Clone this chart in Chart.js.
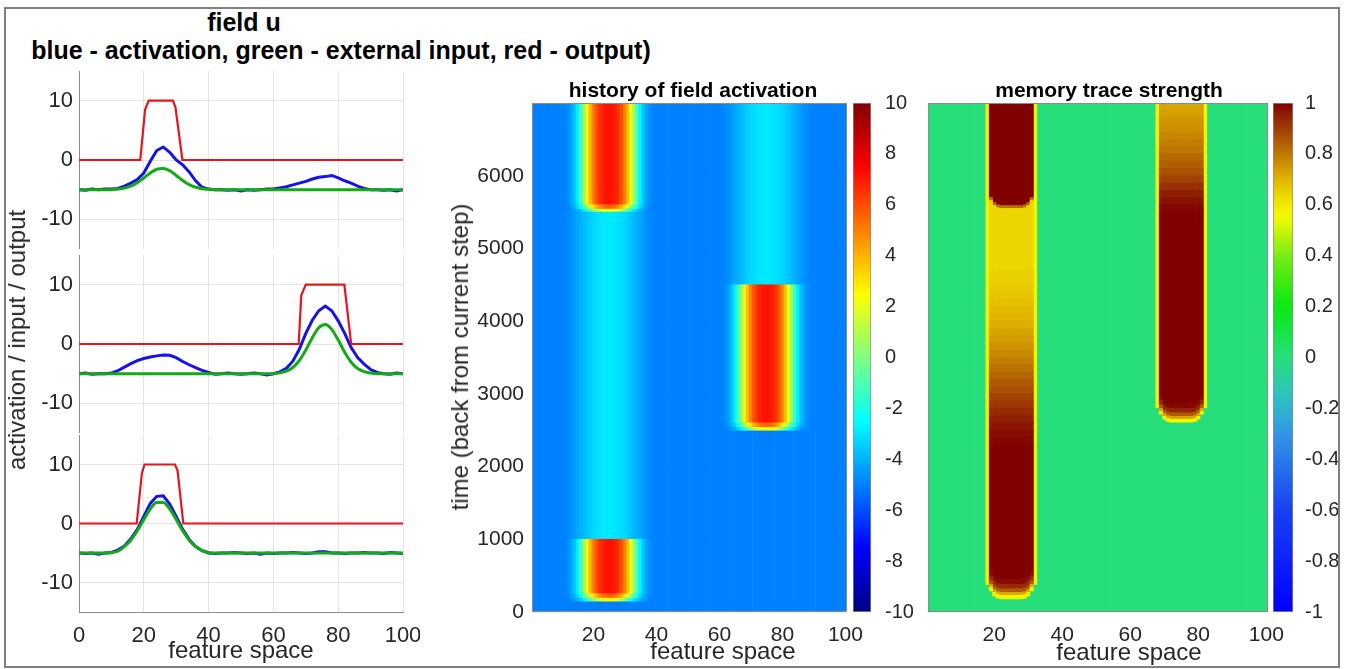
<!DOCTYPE html>
<html>
<head>
<meta charset="utf-8">
<title>field u</title>
<script src="https://cdn.jsdelivr.net/npm/chart.js@4.4.1/dist/chart.umd.min.js"></script>
<style>
  html, body { margin:0; padding:0; background:#ffffff; }
  body { position:relative; width:1345px; height:669px; overflow:hidden; font-family:"Liberation Sans", Arial, Helvetica, sans-serif; color:#262626; }
  .cv { position:absolute; z-index:1; }
  .t { position:absolute; white-space:nowrap; line-height:1; z-index:2; }
  .b { font-weight:bold; color:#000; }
  #frame { position:absolute; left:4px; top:7px; width:1336px; height:661px; border:2px solid #808080; box-sizing:border-box; }
</style>
</head>
<body>
<div id="frame"></div>
<div class="t b" style="font-size:25px; left:244px; top:10px; transform:translateX(-50%);">field u</div>
<div class="t b" style="font-size:25px; left:341px; top:38px; transform:translateX(-50%);">blue - activation, green - external input, red - output)</div>
<div class="t b" style="font-size:21px; left:693px; top:79px; transform:translateX(-50%);">history of field activation</div>
<div class="t b" style="font-size:21px; left:1109px; top:79px; transform:translateX(-50%);">memory trace strength</div>
<div class="t" style="font-size:24px; left:241px; top:638px; transform:translateX(-50%);">feature space</div>
<div class="t" style="font-size:24px; left:723px; top:639px; transform:translateX(-50%);">feature space</div>
<div class="t" style="font-size:24px; left:1129px; top:640px; transform:translateX(-50%);">feature space</div>
<div class="t" style="font-size:24px; left:17px; top:340px; transform:translate(-50%,-50%) rotate(-90deg);">activation / input / output</div>
<div class="t" style="font-size:24px; left:460px; top:357px; transform:translate(-50%,-50%) rotate(-90deg);">time (back from current step)</div>

<script>
// ================= DATA =================
// feature-space sample positions of the three field snapshots
const featureX = [0,2,4,6,8,10,12,14,16,18,20,22,24,26,28,30,32,34,36,38,40,42,44,46,48,50,52,54,56,58,60,62,64,66,68,70,72,74,76,78,80,82,84,86,88,90,92,94,96,98,100];

// panel 1 (top)
const activation1 = [-5.0,-5.1,-4.9,-5.0,-4.9,-4.9,-4.8,-4.4,-3.9,-3.3,-2.2,-0.2,1.6,2.2,1.3,0.0,-0.8,-2.0,-3.5,-4.6,-4.9,-5.0,-5.0,-5.1,-5.0,-5.2,-5.0,-5.1,-5.0,-4.9,-4.9,-4.7,-4.5,-4.2,-3.9,-3.6,-3.2,-2.9,-2.8,-2.6,-3.0,-3.5,-3.9,-4.4,-4.8,-5.0,-5.0,-5.1,-5.0,-5.2,-5.0];
const input1 = [-5,-5,-5,-5,-5,-5,-4.9,-4.74,-4.41,-3.83,-3.03,-2.18,-1.56,-1.42,-1.82,-2.6,-3.45,-4.15,-4.6,-4.84,-4.95,-5,-5,-5,-5,-5,-5,-5,-5,-5,-5,-5,-5,-5,-5,-5,-5,-5,-5,-5,-5,-5,-5,-5,-5,-5,-5,-5,-5,-5,-5];
const outputX1 = [0, 18.9, 20.4, 21.5, 29.0, 29.8, 31.9, 100];
const output1  = [0, 0, 8.5, 10, 10, 8.8, 0, 0];

// panel 2 (middle)
const activation2 = [-5.0,-4.9,-5.1,-5.0,-5.0,-4.9,-4.5,-3.9,-3.3,-2.8,-2.45,-2.2,-2.0,-1.85,-1.9,-2.3,-2.95,-3.5,-4.0,-4.45,-4.8,-5.1,-5.0,-4.9,-5.0,-5.1,-5.0,-4.9,-5.0,-5.2,-5.0,-4.7,-4.1,-2.9,-0.9,1.8,4.0,5.6,6.4,5.6,3.9,1.8,-0.6,-2.3,-3.4,-4.3,-4.8,-5.0,-5.1,-4.9,-5.0];
const input2 = [-5,-5,-5,-5,-5,-5,-5,-5,-5,-5,-5,-5,-5,-5,-5,-5,-5,-5,-5,-5,-5,-5,-5,-5,-5,-5,-5,-5,-5,-5,-5,-4.87,-4.59,-3.96,-2.78,-1.0,1.07,2.74,3.29,2.47,0.66,-1.4,-3.07,-4.13,-4.67,-4.9,-5,-5,-5,-5,-5];
const outputX2 = [0, 67.8, 68.6, 70.0, 81.9, 84.0, 100];
const output2  = [0, 0, 8.2, 10, 10, 0, 0];

// panel 3 (bottom)
const activation3 = [-5.0,-5.1,-5.0,-5.2,-5.0,-4.9,-4.5,-3.8,-2.6,-1.0,1.2,3.4,4.6,4.7,3.3,1.2,-1.0,-2.7,-3.9,-4.6,-5.0,-5.1,-5.0,-5.0,-4.9,-5.0,-5.1,-5.0,-5.2,-5.0,-5.1,-5.0,-5.0,-4.9,-5.0,-5.1,-5.0,-4.8,-4.8,-5.0,-5.0,-5.1,-5.0,-5.0,-4.9,-5.0,-5.0,-5.1,-4.9,-5.0,-5.1];
const input3 = [-5,-5,-5,-5,-5,-4.95,-4.7,-3.9,-2.83,-1.24,0.66,2.46,3.55,3.55,2.46,0.66,-1.24,-2.83,-3.9,-4.6,-4.9,-5,-5,-5,-5,-5,-5,-5,-5,-5,-5,-5,-5,-5,-5,-5,-5,-5,-5,-5,-5,-5,-5,-5,-5,-5,-5,-5,-5,-5,-5];
const outputX3 = [0, 17.8, 19.4, 20.2, 29.6, 30.4, 32.2, 100];
const output3  = [0, 0, 8.5, 10, 10, 9.0, 0, 0];

// tick labels
const fieldYTicks = [-10, 0, 10];
const fieldXTicks = [0, 20, 40, 60, 80, 100];
const heatXTicks = [20, 40, 60, 80, 100];
const timeTicks = [0, 1000, 2000, 3000, 4000, 5000, 6000];
const activationBarTicks = [-10, -8, -6, -4, -2, 0, 2, 4, 6, 8, 10];
const traceBarTicks = [-1, -0.8, -0.6, -0.4, -0.2, 0, 0.2, 0.4, 0.6, 0.8, 1];
const timeMax = 7000;

// history of field activation: profiles across feature space (offset 0,1,2,... from peak centre)
const fieldRest = -5;
const profActive = [7.2, 7.1, 6.9, 6.5, 5.9, 5.0, 3.8, 2.2, 0.4, -1.4, -2.8, -3.7, -4.3, -4.7, -4.9];
const profRiseA  = [2.6, 2.5, 2.2, 1.7, 1.0, 0.1, -0.9, -1.9, -2.8, -3.5, -4.0, -4.4, -4.7, -4.9];
const profRiseB  = [5.6, 5.5, 5.2, 4.7, 4.0, 3.0, 1.8, 0.4, -1.0, -2.3, -3.3, -4.0, -4.5, -4.8];
const profCyan   = [-2.9, -2.92, -2.97, -3.05, -3.15, -3.3, -3.45, -3.65, -3.85, -4.05, -4.25, -4.45, -4.65, -4.8, -4.92];
const histCentres = [25, 75];
const histStart25 = [150, 190, 250, 1000, 5500, 5540, 5600];
const histKind25  = ['riseA', 'riseB', 'active', 'cyan', 'riseA', 'riseB', 'active'];
const histStart75 = [2500, 2540, 2600, 4500];
const histKind75  = ['riseA', 'riseB', 'active', 'cyan'];

// memory trace strength: time rows and trace value inside each trace column
const traceRest = 0;
const traceStart25 = [180, 230, 270, 320, 380, 450, 2300, 2400, 2500, 2600, 2700, 2800, 2900, 3000, 3100, 3200, 3300, 3400, 3500, 3600, 3700, 3800, 3900, 4000, 4100, 4200, 4300, 4400, 4500, 4700, 5550, 5590];
const traceVal25   = [0.56, 0.72, 0.85, 0.93, 0.98, 1.0, 0.99, 0.98, 0.965, 0.95, 0.93, 0.91, 0.89, 0.87, 0.85, 0.83, 0.81, 0.79, 0.77, 0.755, 0.74, 0.725, 0.71, 0.70, 0.69, 0.68, 0.67, 0.66, 0.65, 0.64, 0.82, 1.0];
const traceRound25 = [1, 1, 1, 1, 1, 1, 0, 0, 0, 0, 0, 0, 0, 0, 0, 0, 0, 0, 0, 0, 0, 0, 0, 0, 0, 0, 0, 0, 0, 0, 1, 1];
const traceStart75 = [2610, 2650, 2690, 2740, 2800, 2870, 5500, 5600, 5700, 5800, 5900, 6000, 6100, 6200, 6300, 6400, 6500, 6600, 6700, 6800, 6900];
const traceVal75   = [0.56, 0.72, 0.85, 0.94, 0.99, 1.0, 0.99, 0.97, 0.95, 0.92, 0.89, 0.865, 0.845, 0.825, 0.805, 0.79, 0.775, 0.76, 0.75, 0.735, 0.725];
const traceRound75 = [1, 1, 1, 1, 1, 1, 0, 0, 0, 0, 0, 0, 0, 0, 0, 0, 0, 0, 0, 0, 0];
const traceHalfWidth = 7;
const traceCornerLift = [0, 0, 0, 0, 10, 40, 110];
const traceEdgeValue = 0.56;
const traceEdgeLift = 200;

// ================= STYLE / HELPERS =================
const FONT = '"Liberation Sans", Arial, Helvetica, sans-serif';
Chart.defaults.font.family = FONT;
Chart.defaults.color = '#262626';
Chart.defaults.animation = false;

const RED = '#e8141c', BLUE = '#1414e6', GREEN = '#14aa14';
const AXIS = '#8c8c8c', GRID = '#e4e4e4';

function makeCanvas(left, top, w, h) {
  const c = document.createElement('canvas');
  c.className = 'cv';
  c.width = w; c.height = h;
  c.style.left = left + 'px'; c.style.top = top + 'px';
  c.style.width = w + 'px'; c.style.height = h + 'px';
  document.body.appendChild(c);
  return c;
}
function fixSize(size, horizontal) {
  return (s) => {
    if (horizontal) s.height = size; else s.width = size;
    s.paddingLeft = 0; s.paddingRight = 0; s.paddingTop = 0; s.paddingBottom = 0;
  };
}
function setTicks(list) { return (s) => { s.ticks = list.map(v => ({ value: v })); }; }
function pts(xs, ys) { return xs.map((x, i) => ({ x: x, y: ys[i] })); }
const clamp01 = v => Math.max(0, Math.min(1, v));
function jet(v) {
  const t = clamp01((v + 10) / 20);
  const r = clamp01(1.5 - Math.abs(4 * t - 3));
  const g = clamp01(1.5 - Math.abs(4 * t - 2));
  const b = clamp01(1.5 - Math.abs(4 * t - 1));
  return `rgb(${Math.round(r*255)},${Math.round(g*255)},${Math.round(b*255)})`;
}
const traceAnchors = [
  [-1, 0, 0, 255], [-0.6, 25, 65, 240], [-0.3, 50, 150, 230], [-0.15, 45, 195, 190],
  [0, 38, 222, 122], [0.2, 10, 232, 20], [0.4, 120, 235, 20], [0.55, 245, 250, 0],
  [0.62, 240, 225, 0], [0.7, 225, 180, 0], [0.8, 190, 120, 0], [0.9, 160, 60, 5], [1, 128, 0, 0]
];
function traceColor(v) {
  v = Math.max(-1, Math.min(1, v));
  for (let i = 1; i < traceAnchors.length; i++) {
    const a = traceAnchors[i - 1], b = traceAnchors[i];
    if (v <= b[0]) {
      const f = (v - a[0]) / (b[0] - a[0]);
      return `rgb(${Math.round(a[1] + f*(b[1]-a[1]))},${Math.round(a[2] + f*(b[2]-a[2]))},${Math.round(a[3] + f*(b[3]-a[3]))})`;
    }
  }
  return 'rgb(128,0,0)';
}
const framePlugin = {
  id: 'frame',
  afterDraw(chart, args, opts) {
    const a = chart.chartArea, c = chart.ctx;
    c.save();
    c.strokeStyle = opts.color || AXIS;
    c.lineWidth = 1;
    c.strokeRect(Math.round(a.left) + 0.5, Math.round(a.top) + 0.5, Math.round(a.right - a.left) - 1, Math.round(a.bottom - a.top) - 1);
    c.restore();
  }
};

// ================= LEFT: field snapshots =================
function fieldPanel(canvas, act, inp, outX, out, showX) {
  return new Chart(canvas, {
    type: 'line',
    data: { datasets: [
      { label: 'external input', data: pts(featureX, inp), borderColor: GREEN, borderWidth: 3, pointRadius: 0, cubicInterpolationMode: 'monotone', order: 0 },
      { label: 'output', data: pts(outX, out), borderColor: RED, borderWidth: 2.2, pointRadius: 0, order: 1 },
      { label: 'activation', data: pts(featureX, act), borderColor: BLUE, borderWidth: 3, pointRadius: 0, order: 2 }
    ]},
    options: {
      responsive: false, animation: false, devicePixelRatio: 1,
      layout: { padding: { top: 5, right: 17, left: 0, bottom: 0 } },
      plugins: { legend: { display: false }, tooltip: { enabled: false }, colors: { enabled: false } },
      scales: {
        x: { type: 'linear', min: 0, max: 100, afterBuildTicks: setTicks(fieldXTicks),
             ticks: { display: showX, padding: 11, font: { size: 22 }, maxRotation: 0, callback: v => String(v) },
             grid: { color: GRID, drawTicks: false }, border: { color: AXIS },
             afterFit: fixSize(showX ? 40 : 0, true) },
        y: { type: 'linear', min: -15, max: 15, afterBuildTicks: setTicks(fieldYTicks),
             ticks: { padding: 6, font: { size: 22 }, callback: v => String(v) },
             grid: { color: GRID, drawTicks: false }, border: { color: AXIS },
             afterFit: fixSize(79, false) }
      }
    }
  });
}
fieldPanel(makeCanvas(0, 66, 420, 183), activation1, input1, outputX1, output1, false);
fieldPanel(makeCanvas(0, 250, 420, 183), activation2, input2, outputX2, output2, false);
fieldPanel(makeCanvas(0, 430, 420, 222), activation3, input3, outputX3, output3, true);

// ================= HEATMAP HELPERS =================
const featureBins = [];
for (let b = 1; b <= 100; b++) featureBins.push(b);

function cellDataset(data, colorFn, order) {
  return { data: data, order: order, backgroundColor: data.map(d => colorFn(d.v)),
           borderWidth: 0, barPercentage: 1, categoryPercentage: 1, grouped: false };
}
function heatOptions(showY) {
  return {
    responsive: false, animation: false, devicePixelRatio: 1,
    layout: { padding: { top: 8, right: showY ? 23 : 22, left: 0, bottom: 0 } },
    plugins: { legend: { display: false }, tooltip: { enabled: false }, colors: { enabled: false }, frame: { color: AXIS } },
    scales: {
      x: { type: 'linear', min: 0.5, max: 100.5, offset: false, afterBuildTicks: setTicks(heatXTicks),
           ticks: { padding: 11, font: { size: 21 }, maxRotation: 0, callback: v => String(v) },
           grid: { display: false, offset: false, drawTicks: false }, border: { display: false },
           afterFit: fixSize(40, true) },
      y: { type: 'linear', min: 0, max: timeMax, afterBuildTicks: setTicks(timeTicks), z: 1,
           ticks: { display: showY, padding: 8, font: { size: 21 }, callback: v => String(v) },
           grid: { color: 'rgba(0,0,0,0.07)', drawTicks: false }, border: { display: false },
           afterFit: fixSize(showY ? 92 : 12, false) }
    }
  };
}

// ================= MIDDLE: history of field activation =================
const histProfiles = { riseA: profRiseA, riseB: profRiseB, active: profActive, cyan: profCyan };
const histDatasets = [cellDataset(featureBins.map(x => ({ x: x, y: [0, timeMax + 0.5], v: fieldRest })), jet, 1)];
[[histCentres[0], histStart25, histKind25], [histCentres[1], histStart75, histKind75]].forEach(([c, starts, kinds]) => {
  starts.forEach((t0, i) => {
    const t1 = i + 1 < starts.length ? starts[i + 1] : timeMax + 0.5;
    const prof = histProfiles[kinds[i]];
    const data = [];
    for (let k = -(prof.length - 1); k <= prof.length - 1; k++) data.push({ x: c + k, y: [t0, t1], v: prof[Math.abs(k)] });
    histDatasets.push(cellDataset(data, jet, 0));
  });
});
new Chart(makeCanvas(440, 95, 430, 557), {
  type: 'bar',
  data: { datasets: histDatasets },
  options: heatOptions(true),
  plugins: [framePlugin]
});

// ================= RIGHT: memory trace strength =================
const traceDatasets = [cellDataset(featureBins.map(x => ({ x: x, y: [0, timeMax + 0.5], v: traceRest })), traceColor, 1)];
[[25, traceStart25, traceVal25, traceRound25], [75, traceStart75, traceVal75, traceRound75]].forEach(([c, starts, vals, round]) => {
  starts.forEach((t0, i) => {
    const last = i + 1 >= starts.length;
    const t1 = last ? timeMax + 0.5 : starts[i + 1];
    const data = [];
    for (let k = -(traceHalfWidth - 1); k <= traceHalfWidth - 1; k++) {
      const L = traceCornerLift[Math.abs(k)];
      const lo = t0 + (round[i] ? L : 0);
      const hi = t1 + (!last && round[i + 1] ? L : 0);
      data.push({ x: c + k, y: [lo, hi], v: vals[i] });
    }
    traceDatasets.push(cellDataset(data, traceColor, 0));
  });
  const e0 = starts[0] + traceEdgeLift;
  traceDatasets.push(cellDataset([
    { x: c - traceHalfWidth, y: [e0, timeMax + 0.5], v: traceEdgeValue },
    { x: c + traceHalfWidth, y: [e0, timeMax + 0.5], v: traceEdgeValue }
  ], traceColor, 0));
});
new Chart(makeCanvas(916, 95, 374, 557), {
  type: 'bar',
  data: { datasets: traceDatasets },
  options: heatOptions(false),
  plugins: [framePlugin]
});

// ================= COLOURBARS =================
function gradientFill(map, lo, hi) {
  return (ctx) => {
    const chart = ctx.chart, a = chart.chartArea;
    if (!a) return '#888';
    const g = chart.ctx.createLinearGradient(0, a.bottom, 0, a.top);
    for (let i = 0; i <= 64; i++) g.addColorStop(i / 64, map(lo + (hi - lo) * i / 64));
    return g;
  };
}
function colourBar(canvas, map, ticks, fmt, pad, axisW) {
  const lo = ticks[0], hi = ticks[ticks.length - 1];
  return new Chart(canvas, {
    type: 'bar',
    data: { labels: ['scale'], datasets: [{ data: [[lo, hi]], backgroundColor: gradientFill(map, lo, hi),
      borderColor: AXIS, borderWidth: 1, borderSkipped: false, barPercentage: 1, categoryPercentage: 1 }] },
    options: {
      responsive: false, animation: false, devicePixelRatio: 1,
      layout: { padding: { top: 13, bottom: 13, left: 8, right: 0 } },
      plugins: { legend: { display: false }, tooltip: { enabled: false }, colors: { enabled: false } },
      scales: {
        x: { display: false },
        y: { position: 'right', min: lo, max: hi, afterBuildTicks: setTicks(ticks),
             ticks: { padding: pad, font: { size: 20 }, callback: fmt },
             grid: { display: false }, border: { display: false },
             afterFit: fixSize(axisW, false) }
      }
    }
  });
}
colourBar(makeCanvas(845, 90, 70, 535), jet, activationBarTicks, v => String(v), 6, 44);
colourBar(makeCanvas(1265, 90, 73, 535), traceColor, traceBarTicks, v => String(Math.round(v * 10) / 10), 4, 45);
</script>
</body>
</html>
